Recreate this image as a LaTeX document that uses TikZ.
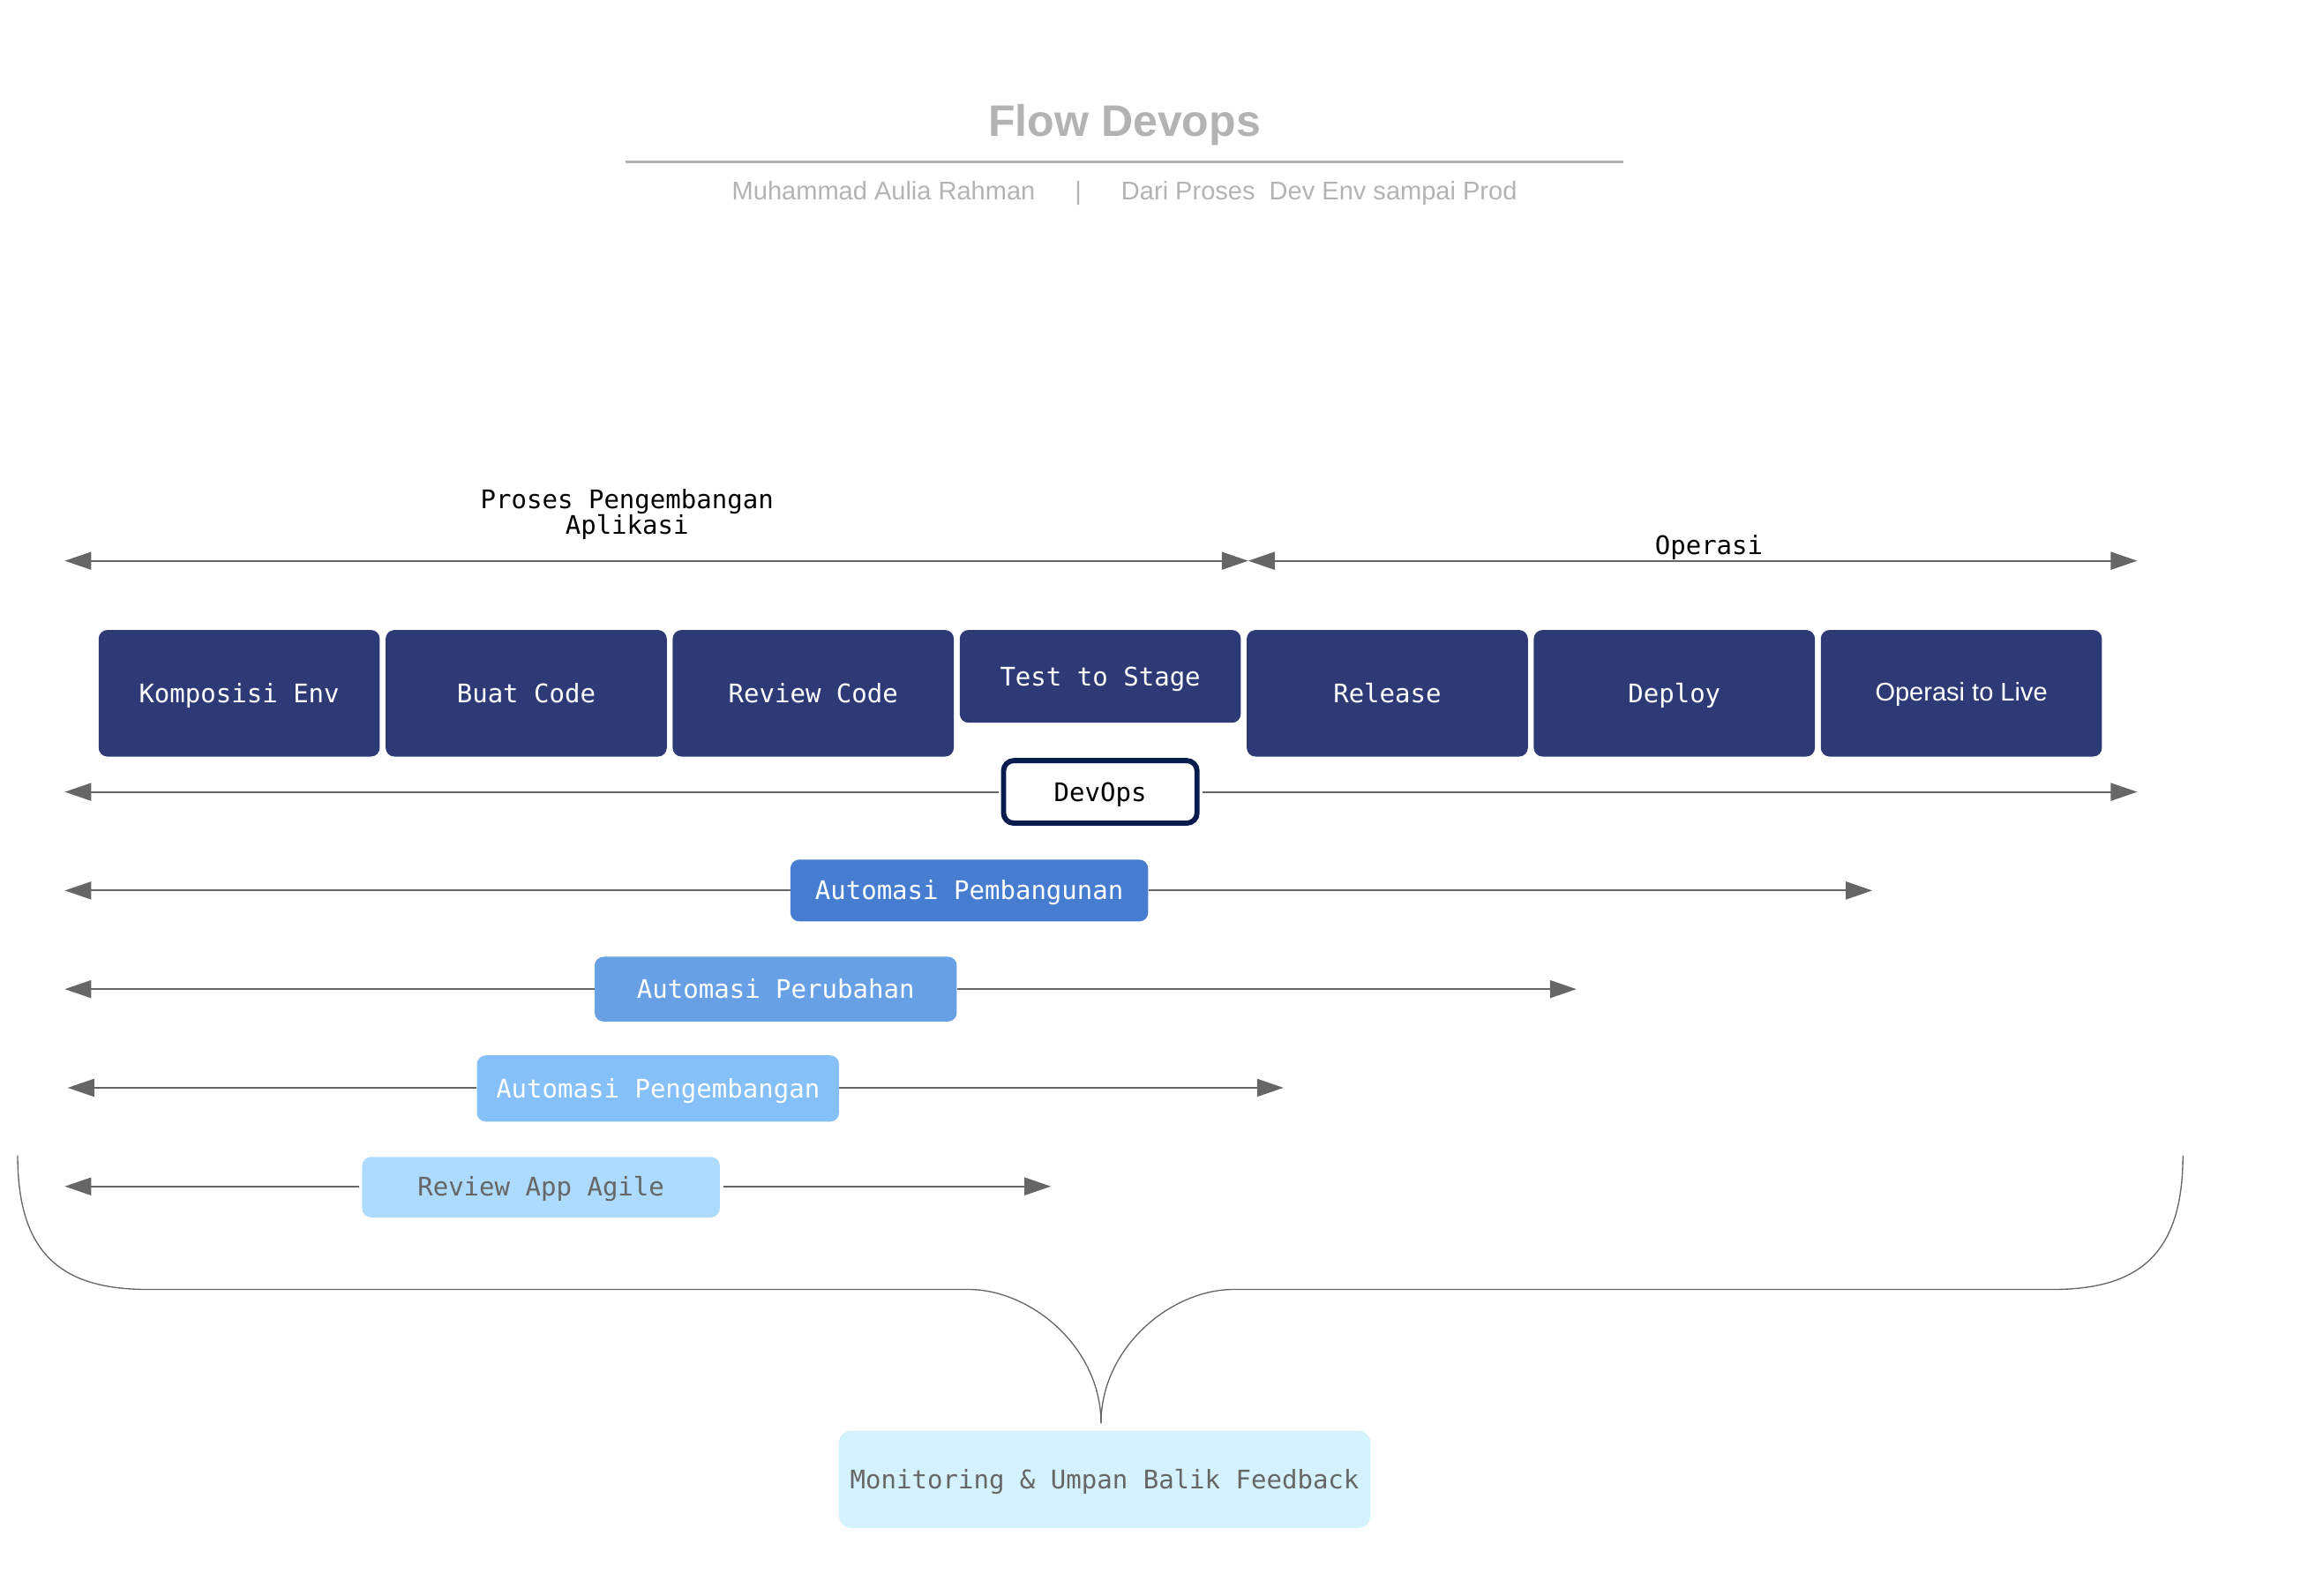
\documentclass[tikz,border=0pt]{standalone}
\usepackage{fontspec}
\setmainfont{Liberation Sans}
\setsansfont{Liberation Sans}
\setmonofont{DejaVu Sans Mono}
\usetikzlibrary{arrows.meta}
\definecolor{navyBox}{RGB}{45,58,118}
\definecolor{navyLine}{RGB}{8,28,80}
\definecolor{autoA}{RGB}{70,125,208}
\definecolor{autoB}{RGB}{103,160,228}
\definecolor{autoC}{RGB}{133,192,249}
\definecolor{autoD}{RGB}{173,219,254}
\definecolor{monBox}{RGB}{212,242,253}
\definecolor{lineGray}{RGB}{102,102,102}
\definecolor{titleGray}{RGB}{179,179,179}
\newcommand{\monofs}{\ttfamily\fontsize{17.4}{17.6}\selectfont}
\newcommand{\sansfs}{\sffamily\fontsize{17.4}{17.6}\selectfont}
\tikzset{
  stagebox/.style={fill=navyBox, rounded corners=6pt, inner sep=0pt, minimum width=191pt, minimum height=86pt, text=white, font=\monofs, text height=12.5pt, text depth=0pt},
  autobox/.style={rounded corners=6pt, inner sep=0pt, minimum width=243pt, text=white, font=\monofs, text height=12.5pt, text depth=0pt},
  spanone/.style={draw=lineGray, fill=lineGray, line width=1.2pt, -{Triangle[length=18pt,width=12pt]}},
  spanboth/.style={draw=lineGray, fill=lineGray, line width=1.2pt, {Triangle[length=18pt,width=12pt]}-{Triangle[length=18pt,width=12pt]}},
  braceline/.style={draw=lineGray, line width=0.8pt}
}

\begin{document}
\begin{tikzpicture}[x=1pt, y=-1pt]
		%%%%% kanvas %%%%%
		\useasboundingbox (0,0) rectangle (1568,1084);
		
		%%%%% judul %%%%%
		\node[font=\sffamily\bfseries\fontsize{30}{32}\selectfont, text=titleGray] (judul) at (764,85) {Flow Devops};
		\coordinate (garisKiri) at (425,110);
		\coordinate (garisKanan) at (1103,110);
		\draw[line width=2pt, color=titleGray] (garisKiri) -- (garisKanan);
		\node[font=\sansfs, text=titleGray] (subjudul) at (764,131) {Muhammad Aulia Rahman\hspace{27pt}|\hspace{27pt}Dari Proses\ \ Dev Env sampai Prod};
		
		%%%%% fase atas %%%%%
		\coordinate (devL) at (44,381);
		\coordinate (devR) at (848,381);
		\coordinate (opsR) at (1452,381);
		\draw[spanboth] (devL) -- (devR);
		\draw[spanboth] (devR) -- (opsR);
		\node[font=\monofs, align=center] (lblDev) at (426,349.5) {Proses Pengembangan\\Aplikasi};
		\node[font=\monofs] (lblOps) at (1161,372) {Operasi};
		
		%%%%% tahapan %%%%%
		\node[stagebox] (komposisi) at (162.5,471) {Komposisi Env};
		\node[stagebox] (buat) at (357.5,471) {Buat Code};
		\node[stagebox] (review) at (552.5,471) {Review Code};
		\node[stagebox, minimum height=63pt] (test) at (747.5,459.5) {Test to Stage};
		\node[stagebox] (release) at (942.5,471) {Release};
		\node[stagebox] (deploy) at (1137.5,471) {Deploy};
		\node[stagebox, font=\sansfs, text depth=2pt] (live) at (1332.5,471) {Operasi to Live};
		
		%%%%% devops %%%%%
		\node[draw=navyLine, line width=3.5pt, fill=white, rounded corners=7pt, inner sep=0pt, minimum width=131.5pt, minimum height=42.5pt, font=\monofs, text height=12.5pt, text depth=0pt] (devops) at (747.5,538) {DevOps};
		\coordinate (devopsL) at (44,538);
		\coordinate (devopsR) at (1452,538);
		\draw[spanone, shorten <=1.75pt] (devops.west) -- (devopsL);
		\draw[spanone, shorten <=1.75pt] (devops.east) -- (devopsR);
		
		%%%%% automasi %%%%%
		\node[autobox, fill=autoA, minimum height=42pt] (pembangunan) at (658.5,605) {Automasi Pembangunan};
		\coordinate (pembL) at (44,605);
		\coordinate (pembR) at (1272,605);
		\draw[spanone] (pembangunan.west) -- (pembL);
		\draw[spanone] (pembangunan.east) -- (pembR);
		
		\node[autobox, fill=autoB, minimum width=246pt, minimum height=44pt] (perubahan) at (527,672) {Automasi Perubahan};
		\coordinate (perL) at (44,672);
		\coordinate (perR) at (1071,672);
		\draw[spanone] (perubahan.west) -- (perL);
		\draw[spanone] (perubahan.east) -- (perR);
		
		\node[autobox, fill=autoC, minimum width=246pt, minimum height=45pt] (pengembangan) at (447,739.5) {Automasi Pengembangan};
		\coordinate (pengL) at (46,739);
		\coordinate (pengR) at (872,739);
		\draw[spanone] (pengembangan.west |- pengL) -- (pengL);
		\draw[spanone] (pengembangan.east |- pengR) -- (pengR);
		
		\node[autobox, fill=autoD, minimum height=41pt, text=lineGray] (agile) at (367.5,806.5) {Review App Agile};
		\coordinate (agileL) at (44,806);
		\coordinate (agileR) at (714,806);
		\draw[spanone, shorten <=2pt] (agile.west |- agileL) -- (agileL);
		\draw[spanone, shorten <=2pt] (agile.east |- agileR) -- (agileR);
		
		%%%%% kurung & umpan balik %%%%%
		\coordinate (kurungKiri) at (12,785);
		\coordinate (kurungKanan) at (1483,785);
		\coordinate (ujung) at (748,967);
		\draw[braceline] (kurungKiri) .. controls (12,850) and (40,876) .. (100,876) -- (658,876) .. controls (700,876) and (748,915) .. (ujung);
		\draw[braceline] (kurungKanan) .. controls (1483,850) and (1455,876) .. (1395,876) -- (838,876) .. controls (796,876) and (748,915) .. (ujung);
		
		\node[fill=monBox, rounded corners=8pt, inner sep=0pt, minimum width=361pt, minimum height=66pt, text=lineGray, font=\monofs, text height=12.5pt, text depth=0pt] (monitoring) at (750.5,1005) {Monitoring \& Umpan Balik Feedback};
		
		%%%%% selesai %%%%%
	\end{tikzpicture}
\end{document}
